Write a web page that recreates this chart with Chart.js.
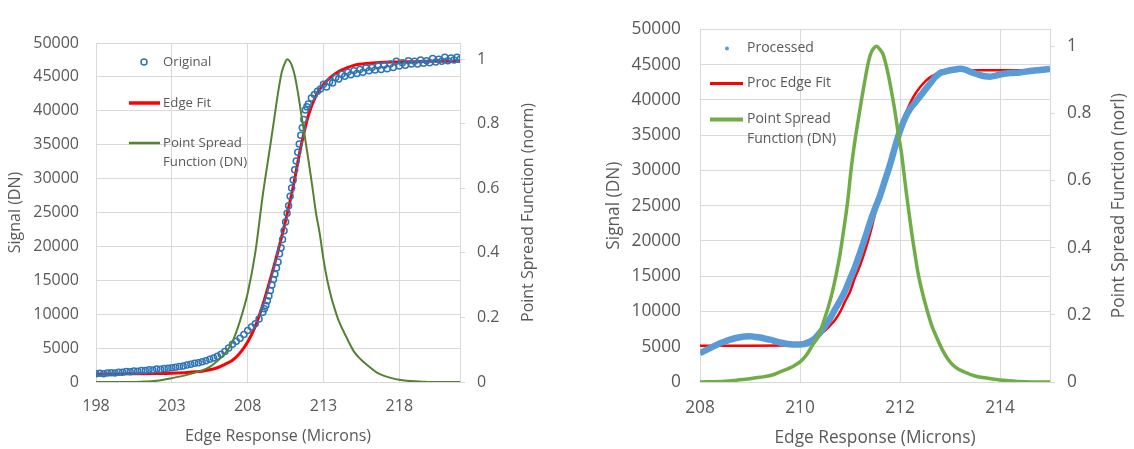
<!DOCTYPE html>
<html lang="en">
<head>
<meta charset="UTF-8">
<title>Edge Response</title>
<style>
  body { margin: 0; background: #fff; }
  .page { display: flex; width: 1134px; height: 449px; }
  .panel { position: relative; width: 567px; height: 449px; }
</style>
</head>
<body>
<div class="page">
  <div class="panel"><canvas id="leftChart"></canvas></div>
  <div class="panel"><canvas id="rightChart"></canvas></div>
</div>

<script src="https://cdn.jsdelivr.net/npm/chart.js"></script>
<script>
  // ---- left panel: original edge ----
  const origX = [198, 198.25, 198.5, 198.75, 199, 199.25, 199.5, 199.75, 200, 200.25, 200.5, 200.75,
    201, 201.25, 201.5, 201.75, 202, 202.25, 202.5, 202.75, 203, 203.25, 203.5, 203.75,
    204, 204.25, 204.5, 204.75, 205, 205.25, 205.5, 205.75, 206, 206.25, 206.5, 206.75,
    207, 207.25, 207.5, 207.75, 208, 208.25, 208.5, 208.75,
    209, 209.1, 209.2, 209.3, 209.4, 209.5, 209.6, 209.7, 209.8, 209.9, 210, 210.1,
    210.2, 210.3, 210.4, 210.5, 210.6, 210.7, 210.8, 210.9, 211, 211.1, 211.2, 211.3,
    211.4, 211.5, 211.6, 211.7, 211.8, 211.9,
    212, 212.2, 212.4, 212.6, 212.8, 213, 213.2, 213.4, 213.6, 213.8, 214, 214.2, 214.4, 214.6,
    214.8, 215, 215.2, 215.4, 215.6, 215.8, 216, 216.2, 216.4, 216.6, 216.8, 217, 217.2, 217.4,
    217.6, 217.8, 218, 218.2, 218.4, 218.6, 218.8, 219, 219.2, 219.4, 219.6, 219.8, 220, 220.2,
    220.4, 220.6, 220.8, 221, 221.2, 221.4, 221.6, 221.8, 222];
  const origY = [1200, 1280, 1220, 1330, 1360, 1320, 1450, 1420, 1550, 1500, 1620, 1580,
    1700, 1680, 1800, 1760, 1900, 1880, 2000, 2020, 2120, 2180, 2300, 2360,
    2520, 2600, 2750, 2850, 3000, 3150, 3350, 3550, 3800, 4100, 4500, 5000,
    5550, 6000, 6450, 7000, 7600, 8100, 8600, 9300,
    10300, 10800, 11300, 12000, 12700, 13500, 14300, 15100, 15900, 16800, 17700, 18900,
    19800, 21000, 22300, 23600, 24900, 26000, 27400, 28600, 29800, 31300, 32600, 33900,
    35100, 36400, 37500, 38700, 40100, 40600,
    41000, 41900, 42400, 42900, 43200, 43900, 43500, 44300, 44100, 44900, 44700, 45400, 45100, 45700,
    45300, 45900, 45500, 46100, 45700, 46300, 45900, 46400, 46000, 46600, 46100, 46700, 46200, 46900,
    46400, 47300, 46600, 47100, 46700, 47400, 46900, 47300, 46900, 47500, 47000, 47400, 47100, 47700,
    47200, 47600, 47300, 47900, 47400, 47800, 47500, 47900, 47600];

  const edgeFitX = [198, 199, 200, 201, 202, 203, 204, 204.5, 205, 205.5, 206, 206.5, 207, 207.5,
    208, 208.5, 209, 209.5, 210, 210.5, 211, 211.5, 212, 212.5, 213, 213.5, 214, 214.5, 215,
    216, 217, 218, 219, 220, 221, 222];
  const edgeFitY = [1150, 1170, 1200, 1220, 1250, 1300, 1400, 1500, 1600, 1800, 2100, 2600, 3200, 4300,
    5900, 8200, 11400, 15200, 19300, 23800, 28800, 34600, 39300, 42200, 43900, 45000, 45800, 46300, 46700,
    47000, 47150, 47200, 47250, 47300, 47300, 47300];

  const psfLeftX = [198, 199, 200, 201, 202, 203, 204, 205, 205.5, 206, 206.5, 207, 207.5, 208, 208.5,
    209, 209.5, 209.75, 210, 210.25, 210.5, 210.6, 210.75, 210.9, 211.1, 211.3, 211.5, 211.75, 212,
    212.25, 212.5, 212.75, 213, 213.25, 213.5, 213.75, 214, 214.5, 215, 215.5, 216, 216.5, 217,
    217.5, 218, 218.5, 219, 219.5, 220, 221, 222];
  const psfLeftY = [0, 0, 0, 0.001, 0.004, 0.012, 0.022, 0.036, 0.047, 0.065, 0.088, 0.125, 0.19, 0.275, 0.4,
    0.58, 0.735, 0.815, 0.895, 0.96, 0.993, 1.0, 0.995, 0.982, 0.95, 0.9, 0.84, 0.765, 0.69,
    0.61, 0.525, 0.46, 0.38, 0.315, 0.265, 0.225, 0.19, 0.14, 0.095, 0.068, 0.048, 0.03, 0.019,
    0.012, 0.007, 0.004, 0.002, 0.001, 0, 0, 0];

  // ---- right panel: processed edge ----
  const procX = [208, 208.1, 208.2, 208.3, 208.4, 208.5, 208.6, 208.7, 208.8, 208.9, 209, 209.1, 209.2,
    209.3, 209.4, 209.5, 209.6, 209.7, 209.8, 209.9, 210, 210.1, 210.2, 210.3, 210.4, 210.5, 210.6,
    210.7, 210.8, 210.9, 211, 211.1, 211.2, 211.3, 211.4, 211.5, 211.6, 211.7, 211.8, 211.9, 212,
    212.1, 212.2, 212.3, 212.4, 212.5, 212.6, 212.7, 212.8, 212.9, 213, 213.1, 213.2, 213.3, 213.4,
    213.5, 213.6, 213.7, 213.8, 213.9, 214, 214.2, 214.4, 214.6, 214.8, 215];
  const procY = [4100, 4450, 4800, 5150, 5500, 5750, 6000, 6200, 6350, 6450, 6480, 6400, 6300,
    6150, 6000, 5800, 5600, 5450, 5350, 5300, 5300, 5400, 5700, 6200, 7000, 7900, 9000,
    10300, 11500, 12900, 14600, 16300, 18300, 20400, 22600, 24600, 26400, 28600, 30800, 33300, 35600,
    37400, 38700, 39600, 40500, 41400, 42300, 43200, 43800, 44000, 44200, 44300, 44400, 44300, 44000,
    43750, 43500, 43350, 43300, 43400, 43600, 43800, 43900, 44100, 44250, 44400];

  const procFitX = [208, 209, 209.8, 210, 210.1, 210.2, 210.3, 210.4, 210.5, 210.6, 210.7, 210.8, 210.9,
    211, 211.1, 211.2, 211.3, 211.4, 211.5, 211.6, 211.7, 211.8, 211.9, 212, 212.1, 212.2, 212.3,
    212.4, 212.5, 212.6, 212.7, 212.8, 213, 213.3, 214, 215];
  const procFitY = [5150, 5150, 5200, 5500, 5700, 6000, 6400, 6800, 7300, 8000, 8800, 9900, 11400,
    12800, 14800, 16500, 18600, 21000, 23800, 26300, 28800, 31300, 33800, 36000, 37900, 39500, 40800,
    41800, 42600, 43200, 43600, 43900, 44100, 44200, 44200, 44200];

  const psfRightX = [208, 208.5, 208.76, 209, 209.2, 209.43, 209.6, 209.8, 209.9, 210, 210.1, 210.16,
    210.25, 210.36, 210.45, 210.56, 210.65, 210.73, 210.8, 210.86, 210.95, 211.03, 211.1, 211.16,
    211.23, 211.3, 211.35, 211.41, 211.47, 211.53, 211.6, 211.66, 211.76, 211.83, 211.9, 211.96,
    212.03, 212.08, 212.13, 212.23, 212.3, 212.36, 212.45, 212.53, 212.63, 212.73, 212.85, 212.96,
    213.1, 213.3, 213.5, 213.76, 214, 214.16, 214.5, 215];
  const psfRightY = [0, 0.002, 0.006, 0.01, 0.014, 0.02, 0.03, 0.042, 0.05, 0.06, 0.075, 0.087,
    0.11, 0.134, 0.17, 0.22, 0.27, 0.325, 0.38, 0.439, 0.534, 0.643, 0.72, 0.776,
    0.84, 0.9, 0.94, 0.976, 0.993, 1.0, 0.99, 0.976, 0.919, 0.865, 0.805, 0.745,
    0.681, 0.62, 0.56, 0.448, 0.38, 0.325, 0.265, 0.22, 0.17, 0.134, 0.095, 0.068,
    0.045, 0.029, 0.018, 0.011, 0.006, 0.004, 0.001, 0];

  // ---- ticks ----
  const leftXTicks = [198, 203, 208, 213, 218];
  const rightXTicks = [208, 210, 212, 214];
  const signalTicks = [0, 5000, 10000, 15000, 20000, 25000, 30000, 35000, 40000, 45000, 50000];
  const psfTicks = [0, 0.2, 0.4, 0.6, 0.8, 1];

  const GREY_TEXT = '#595959';
  const GRID = '#d9d9d9';
  Chart.defaults.font.family = '"Open Sans", sans-serif';
  Chart.defaults.color = GREY_TEXT;

  function toPoints(xs, ys) {
    return xs.map((x, i) => ({ x: x, y: ys[i] }));
  }

  function fixedTicks(values) {
    return axis => { axis.ticks = values.map(v => ({ value: v })); };
  }

  // legend drawn inside the plot area, Excel style
  const insideLegend = {
    id: 'insideLegend',
    afterDatasetsDraw(chart, args, opts) {
      const { ctx, chartArea } = chart;
      ctx.save();
      ctx.font = opts.fontSize + 'px "Open Sans", sans-serif';
      ctx.textBaseline = 'middle';
      opts.rows.forEach((row, i) => {
        const ds = chart.data.datasets[i];
        const y = chartArea.top + row.y;
        if (row.kind === 'circle') {
          ctx.beginPath();
          ctx.arc(chartArea.left + opts.markerX, y, ds.pointRadius, 0, Math.PI * 2);
          ctx.lineWidth = ds.pointBorderWidth;
          ctx.strokeStyle = ds.borderColor;
          ctx.stroke();
        } else if (row.kind === 'dot') {
          ctx.beginPath();
          ctx.arc(chartArea.left + opts.markerX, y, 2, 0, Math.PI * 2);
          ctx.fillStyle = ds.borderColor;
          ctx.fill();
        } else {
          ctx.beginPath();
          ctx.moveTo(chartArea.left + opts.lineFrom, y);
          ctx.lineTo(chartArea.left + opts.lineTo, y);
          ctx.lineWidth = row.width;
          ctx.strokeStyle = ds.borderColor;
          ctx.stroke();
        }
        // simple word wrap
        const words = ds.label.split(' ');
        const lines = [];
        let cur = '';
        words.forEach(w => {
          const test = cur ? cur + ' ' + w : w;
          if (cur && ctx.measureText(test).width > opts.maxWidth) {
            lines.push(cur);
            cur = w;
          } else {
            cur = test;
          }
        });
        lines.push(cur);
        ctx.fillStyle = GREY_TEXT;
        lines.forEach((ln, k) => {
          ctx.fillText(ln, chartArea.left + opts.textX, y + k * opts.lineHeight);
        });
      });
      ctx.restore();
    }
  };

  // secondary axis title, reading bottom to top
  const sideTitle = {
    id: 'sideTitle',
    afterDraw(chart, args, opts) {
      const { ctx, chartArea } = chart;
      ctx.save();
      ctx.translate(chartArea.right + opts.offset, (chartArea.top + chartArea.bottom) / 2);
      ctx.rotate(-Math.PI / 2);
      ctx.font = opts.fontSize + 'px "Open Sans", sans-serif';
      ctx.fillStyle = GREY_TEXT;
      ctx.textAlign = 'center';
      ctx.textBaseline = 'middle';
      ctx.fillText(opts.text, 0, 0);
      ctx.restore();
    }
  };

  function buildScales(s) {
    const font = { size: s.fontSize };
    return {
      x: {
        type: 'linear',
        min: s.xMin,
        max: s.xMax,
        afterBuildTicks: fixedTicks(s.xTicks),
        afterFit: scale => { scale.height = s.xHeight; },
        grid: { color: GRID, drawTicks: false },
        border: { color: GRID },
        ticks: { font: font, padding: s.xPad, maxRotation: 0, autoSkip: false, callback: v => String(v) },
        title: { display: true, text: 'Edge Response (Microns)', font: font, padding: { top: 0, bottom: s.xTitlePad } }
      },
      y: {
        position: 'left',
        min: 0,
        max: 50000,
        afterBuildTicks: fixedTicks(signalTicks),
        afterFit: scale => { scale.width = s.yWidth; },
        grid: { color: GRID, drawTicks: false },
        border: { color: GRID },
        ticks: { font: font, padding: s.yPad, callback: v => String(v) },
        title: { display: true, text: 'Signal (DN)', font: font, padding: { top: s.yTitlePad, bottom: 0 } }
      },
      y2: {
        position: 'right',
        min: 0,
        max: 1.05,
        afterBuildTicks: fixedTicks(psfTicks),
        afterFit: scale => { scale.width = s.y2Width; },
        grid: { drawOnChartArea: false, color: GRID, tickLength: 5 },
        border: { color: GRID },
        ticks: { font: font, padding: 12, callback: v => String(v) }
      }
    };
  }

  new Chart(document.getElementById('leftChart'), {
    type: 'scatter',
    data: {
      datasets: [{
        label: 'Original',
        data: toPoints(origX, origY),
        showLine: false,
        borderColor: '#2e75b6',
        backgroundColor: 'rgba(0,0,0,0)',
        pointRadius: 3,
        pointBorderWidth: 1.5,
        yAxisID: 'y',
        order: 1
      }, {
        label: 'Edge Fit',
        data: toPoints(edgeFitX, edgeFitY),
        showLine: true,
        borderColor: '#ff0000',
        borderWidth: 3,
        pointRadius: 0,
        cubicInterpolationMode: 'monotone',
        yAxisID: 'y',
        order: 2
      }, {
        label: 'Point Spread Function (DN)',
        data: toPoints(psfLeftX, psfLeftY),
        showLine: true,
        borderColor: '#548235',
        borderWidth: 2,
        pointRadius: 0,
        cubicInterpolationMode: 'monotone',
        yAxisID: 'y2',
        order: 0
      }]
    },
    options: {
      responsive: true,
      maintainAspectRatio: false,
      animation: false,
      layout: { padding: { top: 43, left: 0, right: 0, bottom: 0 } },
      scales: buildScales({
        fontSize: 16, xMin: 198, xMax: 222, xTicks: leftXTicks,
        xHeight: 67, xPad: 15, xTitlePad: 3,
        yWidth: 96, yPad: 17, yTitlePad: 6, y2Width: 107
      }),
      plugins: {
        legend: { display: false },
        tooltip: { enabled: false },
        insideLegend: {
          fontSize: 13.2, markerX: 48, lineFrom: 33, lineTo: 64, textX: 67, maxWidth: 95, lineHeight: 19,
          rows: [{ y: 19, kind: 'circle' }, { y: 60, kind: 'line', width: 3.5 }, { y: 100, kind: 'line', width: 2.5 }]
        },
        sideTitle: { text: 'Point Spread Function (norm)', offset: 68, fontSize: 16 }
      }
    },
    plugins: [insideLegend, sideTitle]
  });

  new Chart(document.getElementById('rightChart'), {
    type: 'scatter',
    data: {
      datasets: [{
        label: 'Processed',
        data: toPoints(procX, procY),
        showLine: true,
        borderColor: '#5b9bd5',
        borderWidth: 6.5,
        pointRadius: 0,
        cubicInterpolationMode: 'monotone',
        yAxisID: 'y',
        order: 1
      }, {
        label: 'Proc Edge Fit',
        data: toPoints(procFitX, procFitY),
        showLine: true,
        borderColor: '#ff0000',
        borderWidth: 2.5,
        pointRadius: 0,
        cubicInterpolationMode: 'monotone',
        yAxisID: 'y',
        order: 2
      }, {
        label: 'Point Spread Function (DN)',
        data: toPoints(psfRightX, psfRightY),
        showLine: true,
        borderColor: '#70ad47',
        borderWidth: 3.5,
        pointRadius: 0,
        cubicInterpolationMode: 'monotone',
        yAxisID: 'y2',
        order: 0
      }]
    },
    options: {
      responsive: true,
      maintainAspectRatio: false,
      animation: false,
      layout: { padding: { top: 14, left: 0, right: 0, bottom: 0 } },
      scales: buildScales({
        fontSize: 17.3, xMin: 208, xMax: 215, xTicks: rightXTicks,
        xHeight: 67, xPad: 16, xTitlePad: 1,
        yWidth: 133, yPad: 19, yTitlePad: 37, y2Width: 84
      }),
      plugins: {
        legend: { display: false },
        tooltip: { enabled: false },
        insideLegend: {
          fontSize: 14, markerX: 27, lineFrom: 10, lineTo: 43, textX: 47, maxWidth: 95, lineHeight: 20,
          rows: [{ y: 19, kind: 'dot' }, { y: 54, kind: 'line', width: 3 }, { y: 90, kind: 'line', width: 4 }]
        },
        sideTitle: { text: 'Point Spread Function (norl)', offset: 69, fontSize: 17.3 }
      }
    },
    plugins: [insideLegend, sideTitle]
  });
</script>
</body>
</html>
